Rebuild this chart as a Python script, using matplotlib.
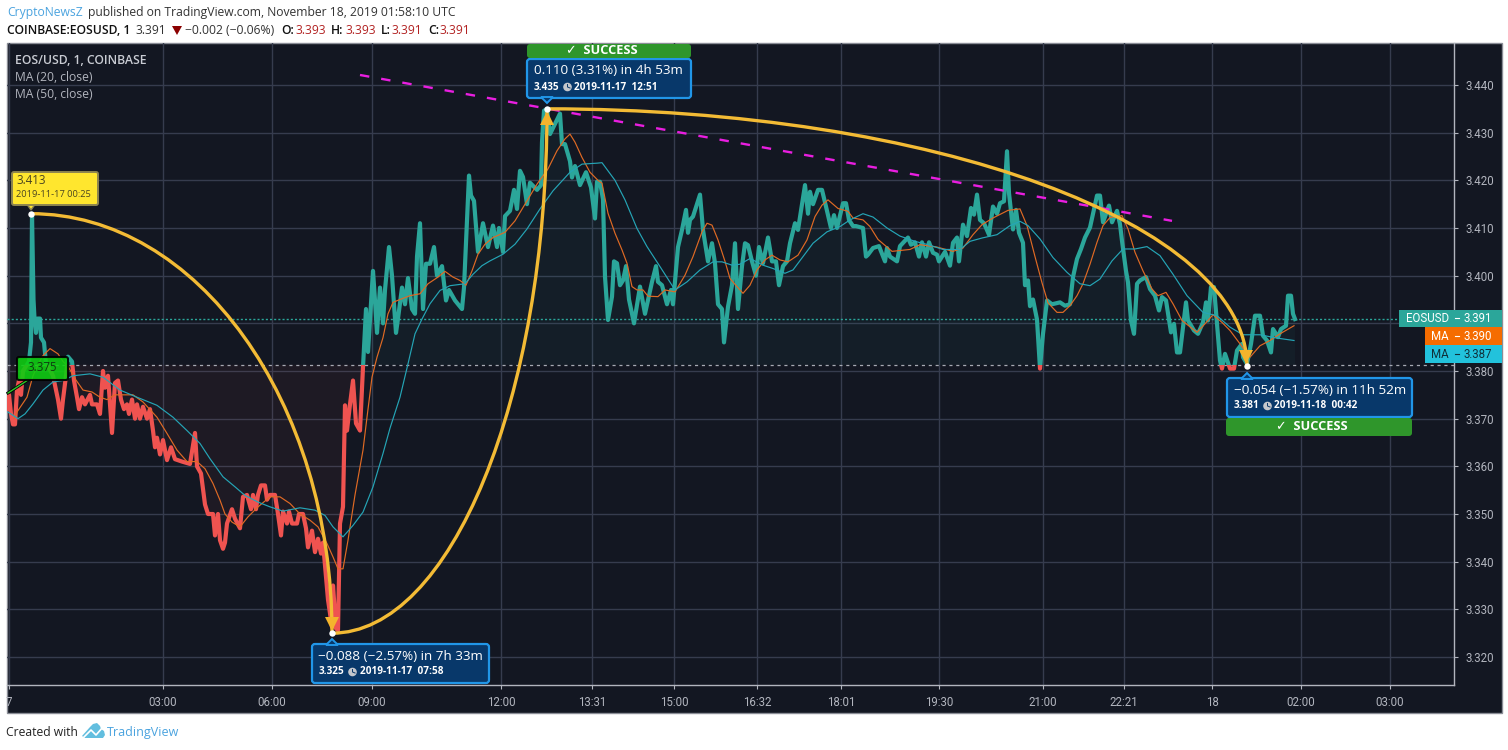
import matplotlib
matplotlib.use("Agg")
import matplotlib.pyplot as plt
from matplotlib.patches import Rectangle, FancyBboxPatch, Polygon, PathPatch, Circle
from matplotlib.path import Path

# ---------- data: (time-axis position, price) ----------
close_a = [(8,3.372),(9,3.375),(11,3.371),(13,3.3688),(15,3.3688),(17,3.376),(19,3.378),(21,3.375),(23,3.380),(29,3.382),(31,3.386),(32,3.413),
 (33.5,3.395),(34.5,3.391),(36,3.388),(37.5,3.391),(40,3.391),(41,3.387),(44,3.386),(46,3.3815),(48,3.381),(53,3.379),(56,3.376),(58,3.374),(61,3.370),
 (63,3.374),(66,3.379),(68,3.383),(72,3.382),(74,3.378),(77,3.3745),(79,3.372),(82,3.3745),(85,3.373),(90,3.375),(92,3.373),(97,3.373),(100,3.371),
 (103,3.380),(105,3.3765),(108,3.379),(112,3.367),(115,3.3775),(118,3.378),(121,3.374),(124,3.372),(127,3.373),(129,3.371),(132,3.374),(135,3.370),
 (137,3.373),(140,3.370),(143,3.3725),(147,3.370),(150,3.372),(153,3.3675),(155,3.364),(157,3.366),(160,3.3625),(163,3.3655),(167,3.3613),(171,3.364),
 (175,3.3615),(182,3.361),(190,3.3605),(195,3.367),(197,3.360),(201,3.3585),(205,3.352),(208,3.350),(213,3.350),(215,3.3455),(218,3.350),(220,3.3445),
 (223,3.3427),(225,3.344),(227,3.348),(232,3.351),(235,3.349),(240,3.347),(243,3.3536),(247,3.354),(251,3.351),(253,3.354),(256,3.351),(258,3.354),
 (261,3.356),(265,3.356),(267,3.353),(270,3.354),(275,3.354),(278,3.350),(281,3.3455),(283,3.3505),(287,3.348),(289,3.3505),(292,3.348),(297,3.348),
 (299,3.350),(303,3.350),(306,3.347),(308,3.343),(312,3.3465),(315,3.342),(318,3.3448),(321,3.3417),(323,3.344),(328,3.332),(332,3.3263),(333,3.335),
 (336,3.326),(338,3.3256),(340,3.348),(343,3.3515),(345,3.3728),(347,3.3675),(350,3.373),(353,3.378),(356,3.369),(360,3.3675),(363,3.3808)]
close_b = [(366,3.393),(368,3.384),(373,3.401),(375,3.3948),(377,3.388),(380,3.3975),(383,3.390),(385,3.397),(389,3.406),(392,3.400),(396,3.388),(398,3.391),
 (402,3.3975),(405,3.394),(408,3.3995),(412,3.393),(415,3.392),(417,3.404),(420,3.411),(423,3.393),(426,3.4025),(430,3.4025),(434,3.406),(437,3.400),
 (442,3.402),(446,3.3948),(449,3.397),(455,3.3948),(462,3.393),(464,3.3975),(469,3.421),(471,3.4168),(474,3.4157),(478,3.405),(483,3.411),(488,3.406),
 (493,3.4105),(497,3.406),(499,3.410),(503,3.405),(505,3.4125),(510,3.4136),(514,3.418),(517,3.414),(520,3.422),(523,3.4207),(527,3.415),(530,3.4195),
 (537,3.418),(541,3.419),(542,3.428),(544,3.4346),(547,3.435),(550,3.4297),(553,3.431),(560,3.434),(562,3.4276),(565,3.4276),(570,3.424),(572,3.4206),
 (575,3.423),(580,3.419),(586,3.4217),(591,3.4185),(595,3.412),(597,3.4197),(600,3.4197),(603,3.416),(605,3.3998),(608,3.3907),(612,3.3956),(614,3.403),
 (617,3.4026),(620,3.398),(623,3.399),(626,3.402),(629,3.395),(634,3.39),(640,3.3977),(645,3.392),(652,3.3987),(656,3.402),(658,3.3987),(662,3.398),
 (667,3.394),(671,3.397),(673,3.394),(678,3.406),(682,3.4096),(686,3.4138),(688,3.409),(690,3.4117),(693,3.4124),(697,3.415),(700,3.417),(703,3.4096),
 (708,3.403),(712,3.4068),(715,3.4026),(718,3.394),(722,3.393),(724,3.386),(728,3.3935),(732,3.398),(735,3.4068),(738,3.393),(742,3.402),(745,3.4068),
 (748,3.4064),(752,3.403),(756,3.400),(759,3.406),(763,3.4026),(768,3.408),(772,3.403),(776,3.403),(779,3.398),(783,3.402),(787,3.403),(790,3.4068),
 (795,3.411),(798,3.4096),(802,3.415),(805,3.419),(808,3.413),(810,3.4176),(813,3.415),(818,3.418),(822,3.418),(826,3.4145),(831,3.41),(834,3.4127),
 (837,3.41),(843,3.4152),(846,3.4152)]
close_c = [(849,3.4117),(853,3.4104),(856,3.4104),(863,3.41),(866,3.404),(868,3.4044),(873,3.4058),(879,3.4062),(885,3.403),(887,3.4058),(890,3.404),
 (897,3.403),(900,3.4062),(908,3.408),(911,3.4065),(915,3.407),(919,3.404),(922,3.407),(926,3.404),(929,3.407),(933,3.4048),(937,3.4044),(939,3.403),
 (945,3.405),(950,3.4021),(953,3.4069),(957,3.408),(959,3.403),(963,3.4107),(967,3.4083),(971,3.4142),(974,3.4128),(977,3.417),(980,3.4117),(984,3.411),
 (989,3.4086),(993,3.4145),(997,3.413),(1000,3.4152),(1004,3.4156),(1007,3.4261),(1009,3.4173),(1013,3.4097),(1016,3.4138),(1019,3.409),(1023,3.4069),
 (1025,3.398),(1028,3.399),(1030,3.3936),(1033,3.395),(1037,3.3908),(1040,3.3805),(1043,3.3878),(1047,3.3948),(1052,3.394),(1060,3.3944),(1065,3.3937),
 (1070,3.394),(1073,3.3997),(1077,3.4035),(1081,3.4056),(1085,3.408),(1090,3.4101),(1093,3.413),(1097,3.4168),(1100,3.4168),(1103,3.4112),(1109,3.4147),
 (1112,3.4112),(1117,3.4136),(1120,3.4108),(1122,3.4073),(1126,3.401),(1128,3.3986),(1131,3.3906),(1134,3.3878),(1137,3.3983),(1140,3.399),(1146,3.3997),
 (1150,3.3972),(1155,3.3958),(1159,3.3927),(1162,3.3955),(1166,3.3948),(1171,3.3881),(1174,3.3899),(1177,3.3839),(1180,3.3839),(1186,3.3944),(1188,3.3906),
 (1194,3.3885),(1198,3.3878),(1203,3.3902),(1206,3.3944),(1208,3.3906),(1211,3.3976),(1214,3.3976),(1217,3.3899),(1220,3.3822),(1222,3.3805),(1225,3.3836),
 (1230,3.3805),(1234,3.3805),(1237,3.3843),(1242,3.3857),(1243,3.3829),(1247,3.3815),(1251,3.3857),(1255,3.3916),(1260,3.3916),(1263,3.3874),(1267,3.3864),
 (1271,3.3839),(1273,3.3888),(1278,3.3871),(1281,3.3888),(1286,3.3895),(1288,3.3958),(1291,3.3958),(1293,3.392),(1295,3.3909)]

ma20 = [(14,3.370),(17,3.3714),(27,3.3745),(33,3.379),(42,3.383),(50,3.3847),(58,3.3836),(63,3.382),(68,3.381),(75,3.3784),(83,3.376),(92,3.3756),(100,3.3745),
 (107,3.374),(115,3.375),(133,3.375),(143,3.3735),(157,3.3703),(167,3.3669),(177,3.3634),(187,3.361),(197,3.361),(205,3.3595),(213,3.3564),(220,3.3529),
 (225,3.350),(232,3.3483),(240,3.3473),(248,3.3494),(258,3.3515),(270,3.3536),(280,3.3536),(290,3.3522),(300,3.350),(310,3.3487),(318,3.3473),(327,3.3438),
 (333,3.341),(338,3.3385),(343,3.3385),(348,3.3445),(355,3.354),(363,3.3634),(367,3.3703),(372,3.3787),(377,3.3829),(383,3.387),(388,3.392),(393,3.3944),
 (400,3.395),(410,3.3958),(420,3.3962),(428,3.3983),(438,3.3997),(445,3.4009),(453,3.3997),(460,3.399),(466,3.398),(472,3.401),(478,3.4045),(485,3.4066),
 (493,3.408),(505,3.4091),(515,3.4115),(525,3.415),(537,3.4192),(548,3.4224),(557,3.4262),(565,3.4287),(570,3.4297),(575,3.428),(582,3.4248),(590,3.4217),
 (598,3.42),(602,3.4194),(608,3.4131),(615,3.4089),(622,3.4054),(627,3.4026),(632,3.3977),(637,3.397),(643,3.397),(648,3.3957),(658,3.3956),(665,3.397),
 (675,3.3966),(685,3.4001),(693,3.404),(702,3.4092),(707,3.411),(712,3.4106),(718,3.4075),(725,3.403),(730,3.3994),(737,3.3977),(743,3.3963),(750,3.398),
 (757,3.4012),(765,3.4033),(772,3.4043),(780,3.4033),(788,3.4029),(798,3.4043),(807,3.4075),(815,3.4124),(822,3.4148),(828,3.4159),(838,3.4141),(848,3.4135),
 (853,3.4121),(863,3.4117),(870,3.4103),(878,3.4076),(892,3.4051),(910,3.4055),(920,3.4065),(937,3.406),(953,3.4051),(963,3.4058),(973,3.4086),(982,3.4107),
 (993,3.4121),(1008,3.4137),(1020,3.414),(1027,3.4105),(1035,3.404),(1042,3.3985),(1048,3.3943),(1057,3.3923),(1063,3.3923),(1070,3.3937),(1077,3.3958),
 (1083,3.3983),(1090,3.4024),(1097,3.407),(1103,3.4105),(1110,3.4122),(1122,3.4126),(1128,3.4098),(1135,3.4049),(1143,3.401),(1152,3.3972),(1158,3.3958),
 (1166,3.3965),(1173,3.3941),(1182,3.3906),(1197,3.3881),(1205,3.3899),(1213,3.3918),(1222,3.3902),(1230,3.3885),(1240,3.3857),(1250,3.3829),(1260,3.3853),
 (1270,3.3864),(1280,3.3878),(1294,3.3895)]

ma50 = [(8,3.3714),(18,3.370),(25,3.371),(33,3.3731),(43,3.376),(53,3.3777),(63,3.378),(73,3.379),(90,3.3794),(103,3.3787),(120,3.376),(137,3.3745),(157,3.3728),
 (173,3.3703),(187,3.3675),(200,3.3648),(210,3.3616),(223,3.3578),(235,3.3557),(245,3.3539),(258,3.3525),(270,3.3515),(283,3.3506),(300,3.3513),(315,3.3508),
 (325,3.3497),(333,3.3473),(343,3.3452),(353,3.3476),(363,3.3504),(373,3.3557),(383,3.3627),(390,3.368),(400,3.3745),(408,3.3815),(415,3.3878),(422,3.3909),
 (430,3.3941),(440,3.3969),(450,3.3979),(465,3.3983),(473,3.4003),(482,3.4021),(490,3.4031),(503,3.4045),(515,3.4066),(527,3.4098),(540,3.414),(553,3.4178),
 (570,3.4217),(582,3.4234),(597,3.4236),(602,3.4237),(615,3.42),(625,3.4159),(637,3.4099),(647,3.4061),(660,3.4019),(675,3.397),(687,3.3987),(700,3.4012),
 (713,3.4029),(722,3.4029),(732,3.4022),(740,3.4024),(750,3.4036),(763,3.4022),(773,3.4015),(785,3.4005),(793,3.4012),(803,3.404),(813,3.4068),(827,3.4092),
 (840,3.4103),(850,3.4117),(863,3.413),(873,3.4123),(887,3.41),(900,3.4083),(915,3.4072),(928,3.4065),(943,3.4055),(960,3.4055),(970,3.4072),(982,3.4079),
 (997,3.4086),(1010,3.4105),(1020,3.4114),(1028,3.4105),(1040,3.4077),(1053,3.4038),(1067,3.4007),(1080,3.3983),(1090,3.3979),(1100,3.3993),(1112,3.4031),
 (1123,3.4056),(1135,3.4056),(1147,3.4061),(1160,3.4042),(1173,3.4003),(1187,3.3958),(1203,3.3923),(1217,3.3916),(1230,3.3892),(1243,3.3876),(1260,3.3876),
 (1277,3.3869),(1294,3.3864)]

baseline_price = 3.3813
last_price = 3.391
y_ticks = [3.32,3.33,3.34,3.35,3.36,3.37,3.38,3.39,3.40,3.41,3.42,3.43,3.44]
x_tick_pos = [9,163,272,372,501,592,674,757,841,939,1043,1124,1212,1301,1390]
x_tick_lab = ['7','03:00','06:00','09:00','12:00','13:31','15:00','16:32','18:01','19:30','21:00','22:21','18','02:00','03:00']
swing_x = [31,332,547,1247]
swing_p = [3.413,3.325,3.435,3.381]
trend_x = [360,1172]
trend_p = [3.4421,3.4115]

BG='#131722'; GRID='#363c4e'; TXT='#b2b5be'; TEAL='#2ba69a'; RED='#ef5350'; GOLD='#f3bb35'
W,H=1508,750
fig=plt.figure(figsize=(W/100,H/100),dpi=100,facecolor='white')
plt.rcParams['font.family']=['Open Sans','DejaVu Sans']

# pane backdrop, in pixels
back=fig.add_axes([0,0,1,1],zorder=0); back.set_xlim(0,W); back.set_ylim(H,0); back.axis('off')
back.add_patch(Rectangle((7,43),1495,670,fc=BG,ec='#8a8d96',lw=1))

L,R,T,B=7,1454,43,685
ax=fig.add_axes([L/W,1-B/H,(R-L)/W,(B-T)/H],zorder=1,facecolor='none')
ax.set_xlim(L,R)
ax.set_ylim(3.32-28/4767,3.44+42/4767)
ax.yaxis.tick_right()
ax.set_yticks(y_ticks)
# the 3.390 label sits behind the last-price tag in the reference
ax.set_yticklabels(['' if abs(v-3.39)<1e-6 else f'{v:.3f}' for v in y_ticks])
ax.set_xticks(x_tick_pos); ax.set_xticklabels(x_tick_lab)
ax.grid(True,color=GRID,lw=1,zorder=0)
ax.set_axisbelow(True)
ax.tick_params(axis='both',colors=TXT,labelsize=8.3,length=3,width=.8,pad=5,labelfontfamily='Roboto')
for s in ['top','left']: ax.spines[s].set_visible(False)
for s in ['right','bottom']: ax.spines[s].set_color('#b2b5be'); ax.spines[s].set_linewidth(1)

pts=close_a+close_b+close_c
xs=[p[0] for p in pts]; ys=[p[1] for p in pts]
ax.fill_between(xs,ys,baseline_price,where=[y>=baseline_price for y in ys],interpolate=True,color=TEAL,alpha=.055,lw=0,zorder=1)
ax.fill_between(xs,ys,baseline_price,where=[y<=baseline_price for y in ys],interpolate=True,color=RED,alpha=.05,lw=0,zorder=1)
ymin,ymax=ax.get_ylim()
for col,y0,y1 in [(TEAL,baseline_price,ymax),(RED,ymin,baseline_price)]:
    ln,=ax.plot(xs,ys,color=col,lw=3.0,solid_joinstyle='round',zorder=3)
    ln.set_clip_path(Rectangle((L,y0),R-L,y1-y0,transform=ax.transData))
ax.plot(*zip(*ma20),color='#e06a24',lw=.85,zorder=4)
ax.plot(*zip(*ma50),color='#25a5b6',lw=.85,zorder=4)
ax.axhline(last_price,color=TEAL,lw=1,ls=(0,(1.5,1.5)),zorder=2)
ax.axhline(baseline_price,color='#a6a9b2',lw=.9,ls=(0,(2.5,3)),zorder=2)
ax.plot(trend_x,trend_p,color='#e91ee0',lw=1.7,ls=(0,(4.0,5.1)),zorder=5)

# swing arcs: quarter ellipses between consecutive swing points
K=.5523
def arc(x0,p0,x1,p1):
    v=[(x0,p0),(x0+K*(x1-x0),p0),(x1,p0+(1-K)*(p1-p0)),(x1,p1)]
    ax.add_patch(PathPatch(Path(v,[Path.MOVETO,Path.CURVE4,Path.CURVE4,Path.CURVE4]),fc='none',ec=GOLD,lw=2.4,zorder=6))
for i in range(3): arc(swing_x[i],swing_p[i],swing_x[i+1],swing_p[i+1])
ax.plot([swing_x[1]],[swing_p[1]+.0019],marker='v',ms=10,color='#f4b42c',mew=0,zorder=7)
ax.plot([swing_x[2]],[swing_p[2]-.0019],marker='^',ms=10,color='#f4b42c',mew=0,zorder=7)
ax.plot([swing_x[3]-1],[swing_p[3]+.0019],marker='v',ms=10,color='#f4b42c',mew=0,zorder=7)
ax.plot(swing_x,swing_p,ls='none',marker='o',ms=4.6,color='white',mew=0,zorder=8)

# overlay for text and callouts, in pixels
ov=fig.add_axes([0,0,1,1],zorder=2,facecolor='none'); ov.set_xlim(0,W); ov.set_ylim(H,0); ov.axis('off')
def t(x,y,s,size=9,color='#222',weight='normal',ha='left',fam=None,va='center'):
    return ov.text(x,y,s,fontsize=size,color=color,fontweight=weight,ha=ha,va=va,family=fam or ['Open Sans','DejaVu Sans'])

# header
t(7,12.5,'CryptoNewsZ',8.75,'#4aa3df')
t(88,12.5,'published on TradingView.com, November 18, 2019 01:58:10 UTC',8.75,'#333')
t(7,30,'COINBASE:EOSUSD, 1',8.7,'#111',weight='semibold')
t(136,30,'3.391',8.75,'#333')
ov.add_patch(Polygon([(172,26),(182,26),(177,35)],fc='#8b0000',ec='none'))
t(185,30,'\u22120.002 (\u22120.06%)',8.75,'#333')
for x,s in [(281,'O:'),(331,'H:'),(381,'L:'),(428,'C:')]: t(x,30,s,8.75,'#111',weight='semibold')
for x,s in [(295,'3.393'),(345,'3.393'),(392,'3.391'),(440,'3.391')]: t(x,30,s,8.75,'#b22222')

# legend
t(15,60.5,'EOS/USD, 1, COINBASE',8.8,'#c9ccd3',weight='semibold')
t(15,77.5,'MA (20, close)',8.7,TXT)
t(15,94.5,'MA (50, close)',8.7,TXT)

# price tags
def tag(x0,y0,y1,col,name,val,tc):
    ov.add_patch(Rectangle((x0,y0),1502-x0,y1-y0,fc=col,ec='none'))
    ov.plot([1455,1459],[(y0+y1)/2]*2,color=tc,lw=.8)
    t(1449,(y0+y1)/2,name,8.3,tc,ha='right',fam='Roboto')
    t(1463,(y0+y1)/2,val,8.3,tc,fam='Roboto')
tag(1399,309.5,327,TEAL,'EOSUSD','3.391','white')
tag(1425,327,345,'#f56c00','MA','3.390','white')
tag(1425,345,363,'#22c2dc','MA','3.387','#10303a')

# callouts
def callout(x0,y0,x1,y1,px,line1,price,stamp,up=True):
    ov.add_patch(FancyBboxPatch((x0+2,y0+2),x1-x0-4,y1-y0-4,boxstyle='round,pad=2,rounding_size=3',fc='#08386a',ec='#2196e8',lw=1.6,zorder=3))
    if up: ov.add_patch(Polygon([(px-6,y0+1),(px,y0-5),(px+6,y0+1)],fc='#08386a',ec='#2196e8',lw=1.4,zorder=3.1))
    else:  ov.add_patch(Polygon([(px-6,y1-1),(px,y1+5),(px+6,y1-1)],fc='#08386a',ec='#2196e8',lw=1.4,zorder=3.1))
    ov.text(x0+6.5,y0+12,line1,fontsize=9.7,color='white',va='center',zorder=4,family='Open Sans')
    ov.text(x0+6.5,y0+28,price,fontsize=7.2,color='white',fontweight='bold',va='center',zorder=4,family='Open Sans')
    cx=x0+40.5
    ov.add_patch(Circle((cx,y0+28),4.3,fc='#c4c7cc',ec='none',zorder=4))
    ov.plot([cx,cx,cx+2.5],[y0+25.5,y0+28,y0+29],color='#08386a',lw=.7,zorder=5)
    ov.text(x0+47.5,y0+28,stamp,fontsize=7.2,color='white',fontweight='bold',va='center',zorder=4,family='Open Sans')
callout(312,644,489,683,332,'\u22120.088 (\u22122.57%) in 7h 33m','3.325','2019-11-17  07:58',True)
callout(527,59,691,98,547,'0.110 (3.31%) in 4h 53m','3.435','2019-11-17  12:51',False)
callout(1227,378,1412,417,1247,'\u22120.054 (\u22121.57%) in 11h 52m','3.381','2019-11-18  00:42',True)

# success banners
def success(x0,y0,x1,y1):
    ov.add_patch(FancyBboxPatch((x0+3,y0+3),x1-x0-6,y1-y0-6,boxstyle='round,pad=3,rounding_size=3',fc='#2f962b',ec='none',zorder=3))
    ov.text((x0+x1)/2-7.5,(y0+y1)/2-.5,'\u2713  SUCCESS',fontsize=9.2,color='white',fontweight='bold',ha='center',va='center',zorder=4,family=['Open Sans','DejaVu Sans'])
success(527,44,691,58)
success(1226,418,1412,436)

# yellow note
ov.add_patch(Polygon([(26,203),(31,210),(36,203)],fc='#ffe62e',ec='#8c8450',lw=1,zorder=3))
ov.add_patch(FancyBboxPatch((14,174),82,29,boxstyle='round,pad=2,rounding_size=2',fc='#ffe62e',ec='#8c8450',lw=1.4,zorder=3))
ov.add_patch(Rectangle((26.5,200),9,4,fc='#ffe62e',ec='none',zorder=3.1))
ov.text(16,181,'3.413',fontsize=8.3,color='#4a4520',va='center',zorder=4,family='Open Sans')
ov.text(16,194.5,'2019-11-17 00:25',fontsize=6.7,color='#4a4520',va='center',zorder=4,family='Open Sans')

# green note
ov.plot([8,28],[393,380],color='black',lw=2.2,zorder=2.9)
ov.plot([8,28],[393,380],color='#28c828',lw=1,zorder=2.95)
ov.add_patch(FancyBboxPatch((19,359),47,19,boxstyle='round,pad=2,rounding_size=2',fc='#0fcc12',ec='black',lw=1.5,alpha=.9,zorder=3))
ov.text(42.5,367.5,'3.375',fontsize=8.3,color='#103a10',ha='center',va='center',zorder=4,family='Open Sans')

# footer
t(6,732.5,'Created with',8.75,'#222')
ov.add_patch(Polygon([(82,736),(90,727),(93,724),(97,723),(100,726),(101,729),(104,731),(105,735),(103,738),(85,738)],fc='#62bedf',ec='none'))
ov.plot([84,91,96,103],[737,730,735,727],color='white',lw=1.2)
t(106.5,732.5,'TradingView',9.0,'#4aa3df')

fig.savefig('out.png',dpi=100,facecolor='white')
